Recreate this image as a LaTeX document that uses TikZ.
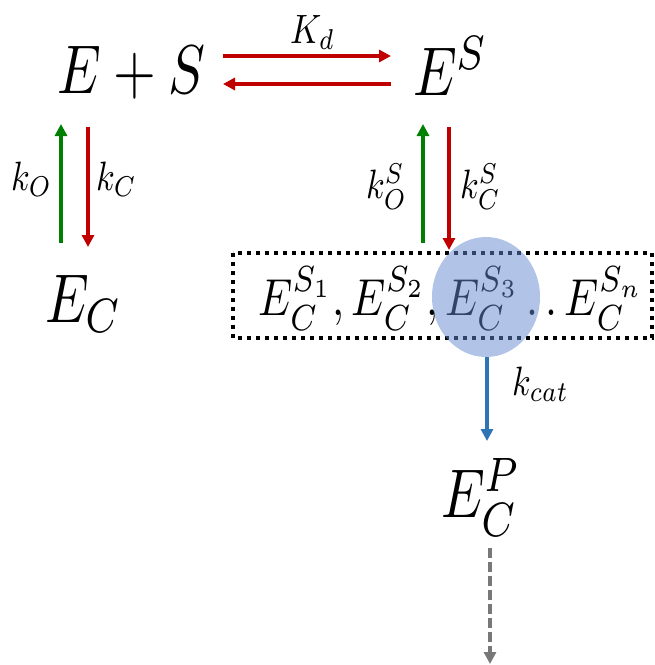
\documentclass[tikz,border=0pt]{standalone}
\usepackage{graphicx}
\usetikzlibrary{arrows.meta,shapes.geometric}
\definecolor{kred}{RGB}{192,0,0}
\definecolor{kgreen}{RGB}{0,128,0}
\definecolor{kblue}{RGB}{46,117,182}
\definecolor{kcirc}{RGB}{99,137,207}
\definecolor{kgray}{RGB}{120,120,120}
\newcommand{\mxbig}[1]{\scalebox{5.5}[6.9]{$#1$}}
\newcommand{\mxmid}[1]{\scalebox{4.3}[5.2]{$#1$}}
\newcommand{\mxlab}[1]{\scalebox{3.4}[4.1]{$#1$}}
\tikzset{
  txt/.style={inner sep=0pt, anchor=base west},
  ahead/.style={-{Triangle[length=12pt,width=12pt]}},
  rarr/.style={draw=kred, line width=3.5pt, ahead},
  garr/.style={draw=kgreen, line width=3.5pt, ahead},
  barr/.style={draw=kblue, line width=3.5pt, ahead},
  darr/.style={draw=kgray, line width=4.5pt, dash pattern=on 10pt off 4pt, ahead}
}
\begin{document}
\begin{tikzpicture}[x=1pt,y=-1pt]
\useasboundingbox (0,0) rectangle (655,665);
% main species
\node[txt, anchor=base] (ES) at (131,93) {\mxbig{E+S}};
\node[txt] (Es) at (413,95) {\mxbig{E^S}};
\node[txt] (Ec) at (45,322) {\mxbig{E_C}};
\node[txt] (Ep) at (441,517) {\mxbig{E_C^P}};
% coordinates for arrows
\coordinate (h1a) at (223,56);
\coordinate (h1b) at (391,56);
\coordinate (h2a) at (391,84);
\coordinate (h2b) at (223,84);
\coordinate (l1a) at (61,243);
\coordinate (l1b) at (61,124);
\coordinate (l2a) at (88,127);
\coordinate (l2b) at (88,247);
\coordinate (r1a) at (423,243);
\coordinate (r1b) at (423,124);
\coordinate (r2a) at (449,127);
\coordinate (r2b) at (449,250);
\coordinate (ba) at (487,357);
\coordinate (bb) at (487,441);
\coordinate (da) at (490,548);
\coordinate (db) at (490,664);
% labels
\node[txt] (Kd) at (290,43) {\mxlab{K_d}};
\node[txt] (ko) at (11,190) {\mxlab{k_O}};
\node[txt] (kc) at (96,190) {\mxlab{k_C}};
\node[txt] (kos) at (366,198) {\mxlab{k_O^S}};
\node[txt] (kcs) at (460,198) {\mxlab{k_C^S}};
\node[txt] (kcat) at (512,395) {\mxlab{k_{cat}}};
% arrows
\draw[rarr] (h1a) -- (h1b);
\draw[rarr] (h2a) -- (h2b);
\draw[garr] (l1a) -- (l1b);
\draw[rarr] (l2a) -- (l2b);
\draw[garr] (r1a) -- (r1b);
\draw[rarr] (r2a) -- (r2b);
\draw[barr] (ba) -- (bb);
\draw[darr] (da) -- (db);
% box content
\node[txt, anchor=base] (row) at (451,315) {\mxmid{E_C^{S_1}, E_C^{S_2}, E_C^{S_3}\,.\,.\,E_C^{S_n}}};
\draw[line width=4pt, dash pattern=on 4pt off 5pt] (233,253) rectangle (652,338);
\node[draw=none, fill=kcirc, fill opacity=0.5, ellipse, minimum width=108pt, minimum height=120pt, inner sep=0pt] (circ) at (486,297) {};
\end{tikzpicture}
\end{document}
